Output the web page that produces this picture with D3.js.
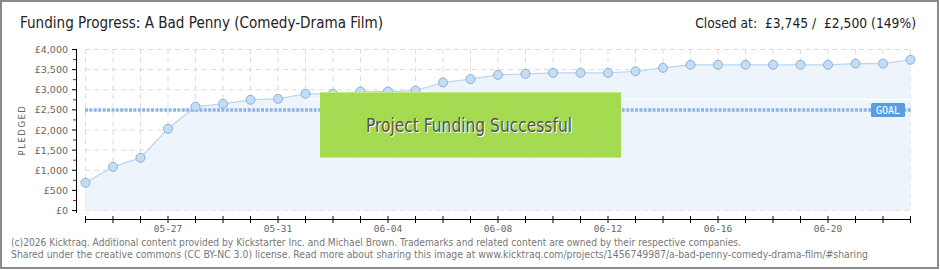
<!DOCTYPE html>
<html><head><meta charset="utf-8">
<script src="https://cdn.jsdelivr.net/npm/d3@7"></script>
<style>html,body{margin:0;padding:0;background:#fff}svg{display:block}</style>
</head><body>
<svg id="c" width="940" height="270"></svg>
<script>
const dates = ["2026-05-24","2026-05-25","2026-05-26","2026-05-27","2026-05-28","2026-05-29","2026-05-30","2026-05-31",
"2026-06-01","2026-06-02","2026-06-03","2026-06-04","2026-06-05","2026-06-06","2026-06-07","2026-06-08","2026-06-09","2026-06-10",
"2026-06-11","2026-06-12","2026-06-13","2026-06-14","2026-06-15","2026-06-16","2026-06-17","2026-06-18","2026-06-19","2026-06-20",
"2026-06-21","2026-06-22","2026-06-23"];
const pledged = [690,1085,1310,2030,2580,2650,2750,2775,2900,2900,2955,2955,2980,3180,3265,3370,3395,3420,3420,3420,3460,3545,3620,3620,3620,3620,3620,3620,3650,3650,3745];
const goal = 2500;
const yTicks = [0,500,1000,1500,2000,2500,3000,3500,4000];
const yMinor = [250,750,1250,1750,2250,2750,3250,3750];
const xLabelDates = ["2026-05-27","2026-05-31","2026-06-04","2026-06-08","2026-06-12","2026-06-16","2026-06-20"];
const title = "Funding Progress: A Bad Penny (Comedy-Drama Film)";
const status = "Closed at:  £3,745 /  £2,500 (149%)";
const footer1 = "(c)2026 Kicktraq. Additional content provided by Kickstarter Inc. and Michael Brown. Trademarks and related content are owned by their respective companies.";
const footer2 = "Shared under the creative commons (CC BY-NC 3.0) license. Read more about sharing this image at www.kicktraq.com/projects/1456749987/a-bad-penny-comedy-drama-film/#sharing";

const parse = d3.utcParse("%Y-%m-%d");
const data = dates.map((d,i)=>({date:parse(d), v:pledged[i]}));
const svg = d3.select("#c");
const condensed = "'Liberation Sans Narrow','DejaVu Sans Condensed',sans-serif";

const x = d3.scaleUtc().domain([parse(dates[0]), parse(dates[dates.length-1])]).range([85.5, 910.5]);
const y = d3.scaleLinear().domain([0,4000]).range([210.5, 49.5]);

// frame
svg.append("rect").attr("x",1).attr("y",1).attr("width",937).attr("height",267)
  .attr("fill","#fff").attr("stroke","#8a8a8a").attr("stroke-width",2);

// titles
svg.append("text").attr("x",20).attr("y",28).attr("font-family",condensed).attr("font-size",16)
  .attr("fill","#222").attr("textLength",363).attr("lengthAdjust","spacingAndGlyphs").text(title);
const st = svg.append("text").attr("x",916).attr("y",28).attr("text-anchor","end").attr("font-family",condensed)
  .attr("font-size",16).attr("fill","#222").style("white-space","pre").text(status);
const w = st.node().getComputedTextLength();
if (w > 222) st.attr("font-size", 16 * 221 / w);

// grid
const days = d3.utcDay.range(parse(dates[0]), d3.utcDay.offset(parse(dates[dates.length-1]),1));
svg.append("g").selectAll("line").data(yTicks).join("line")
  .attr("x1",85).attr("x2",911).attr("y1",d=>y(d)).attr("y2",d=>y(d))
  .attr("stroke","#dcdcdc").attr("stroke-dasharray","5,4");
svg.append("g").selectAll("line").data(days).join("line")
  .attr("x1",d=>x(d)).attr("x2",d=>x(d)).attr("y1",49).attr("y2",211)
  .attr("stroke","#dcdcdc").attr("stroke-dasharray","5,4");

// area + line
svg.append("path").datum(data)
  .attr("d", d3.area().x(d=>x(d.date)).y0(y(0)).y1(d=>y(d.v)))
  .attr("fill","#edf4fc");
svg.append("line").attr("x1",x(parse(dates[8]))).attr("x2",x(parse(dates[dates.length-1])))
  .attr("y1",y(2760)).attr("y2",y(2760)).attr("stroke","#fff").attr("stroke-width",1.5);
svg.append("path").datum(data)
  .attr("d", d3.line().x(d=>x(d.date)).y(d=>y(d.v)))
  .attr("fill","none").attr("stroke","#b9d5f2").attr("stroke-width",1.2);

// goal line
svg.append("line").attr("x1",85).attr("x2",911).attr("y1",y(goal)).attr("y2",y(goal))
  .attr("stroke","#8fb4e2").attr("stroke-width",3.5).attr("stroke-dasharray","3,1.4");

// points
svg.append("g").selectAll("circle").data(data).join("circle")
  .attr("cx",d=>x(d.date)).attr("cy",d=>y(d.v)).attr("r",4.5)
  .attr("fill","#c4ddf7").attr("stroke","#8fafd3").attr("stroke-width",1);

// goal label
const gx = 871, gy = y(goal);
svg.append("rect").attr("x",gx).attr("y",gy-7).attr("width",34).attr("height",14).attr("rx",1.5)
  .attr("fill","#5b9ee0");
svg.append("text").attr("x",gx+17).attr("y",gy+4).attr("text-anchor","middle")
  .attr("font-family","'DejaVu Sans Mono',monospace").attr("font-size",10).attr("fill","#fff").text("GOAL");

// success banner
const defs = svg.append("defs");
const pat = defs.append("pattern").attr("id","hatch").attr("width",4).attr("height",4)
  .attr("patternUnits","userSpaceOnUse").attr("patternTransform","rotate(45)");
pat.append("rect").attr("width",4).attr("height",4).attr("fill","#a6dc52");
pat.append("line").attr("x1",0).attr("y1",0).attr("x2",0).attr("y2",4).attr("stroke","#9fd34c").attr("stroke-width",1.5);
svg.append("rect").attr("x",320).attr("y",92).attr("width",301).attr("height",66).attr("fill","url(#hatch)");
svg.append("line").attr("x1",320).attr("x2",621).attr("y1",92.5).attr("y2",92.5).attr("stroke","#c4ea8a");
svg.append("line").attr("x1",320).attr("x2",621).attr("y1",157.5).attr("y2",157.5).attr("stroke","#c4ea8a");
svg.append("text").attr("x",469).attr("y",132).attr("text-anchor","middle").attr("font-family",condensed)
  .attr("font-size",19).attr("fill","#fff").attr("textLength",206).attr("lengthAdjust","spacingAndGlyphs")
  .attr("transform","translate(1,1)").text("Project Funding Successful");
svg.append("text").attr("x",469).attr("y",132).attr("text-anchor","middle").attr("font-family",condensed)
  .attr("font-size",19).attr("fill","#555").attr("textLength",206).attr("lengthAdjust","spacingAndGlyphs")
  .text("Project Funding Successful");

// y axis
const fmt = v => "£" + d3.format(",")(v);
svg.append("line").attr("x1",76.5).attr("x2",76.5).attr("y1",49).attr("y2",213).attr("stroke","#000");
svg.append("g").selectAll("line").data(yTicks).join("line")
  .attr("x1",72).attr("x2",77).attr("y1",d=>y(d)).attr("y2",d=>y(d)).attr("stroke","#000");
svg.append("g").selectAll("line").data(yMinor).join("line")
  .attr("x1",73).attr("x2",76).attr("y1",d=>y(d)).attr("y2",d=>y(d)).attr("stroke","#e00");
svg.append("g").selectAll("text").data(yTicks).join("text")
  .attr("x",68).attr("y",d=>y(d)+3.5).attr("text-anchor","end")
  .attr("font-family","'DejaVu Sans',sans-serif").attr("font-size",9.5).attr("fill","#666").text(fmt);
svg.append("text").attr("transform","translate(25,130) rotate(-90)").attr("text-anchor","middle")
  .attr("font-family","'DejaVu Sans',sans-serif").attr("font-size",8.5).attr("letter-spacing",1.5)
  .attr("fill","#666").text("PLEDGED");

// x axis
svg.append("line").attr("x1",85).attr("x2",911).attr("y1",219.5).attr("y2",219.5).attr("stroke","#000");
svg.append("g").selectAll("line").data(days).join("line")
  .attr("x1",d=>x(d)).attr("x2",d=>x(d)).attr("y1",216).attr("y2",223).attr("stroke","#000");
const fmtX = d3.utcFormat("%m-%d");
svg.append("g").selectAll("text").data(xLabelDates.map(parse)).join("text")
  .attr("x",d=>x(d)).attr("y",232).attr("text-anchor","middle")
  .attr("font-family","'DejaVu Sans Mono',monospace").attr("font-size",9.5).attr("fill","#666").text(fmtX);

// footer
svg.append("text").attr("x",11).attr("y",246).attr("font-family","'DejaVu Sans Condensed','DejaVu Sans',sans-serif")
  .attr("font-size",10).attr("fill","#777").attr("textLength",730).attr("lengthAdjust","spacingAndGlyphs").text(footer1);
svg.append("text").attr("x",11).attr("y",258).attr("font-family","'DejaVu Sans Condensed','DejaVu Sans',sans-serif")
  .attr("font-size",10).attr("fill","#777").attr("textLength",857).attr("lengthAdjust","spacingAndGlyphs").text(footer2);
</script>
</body></html>
